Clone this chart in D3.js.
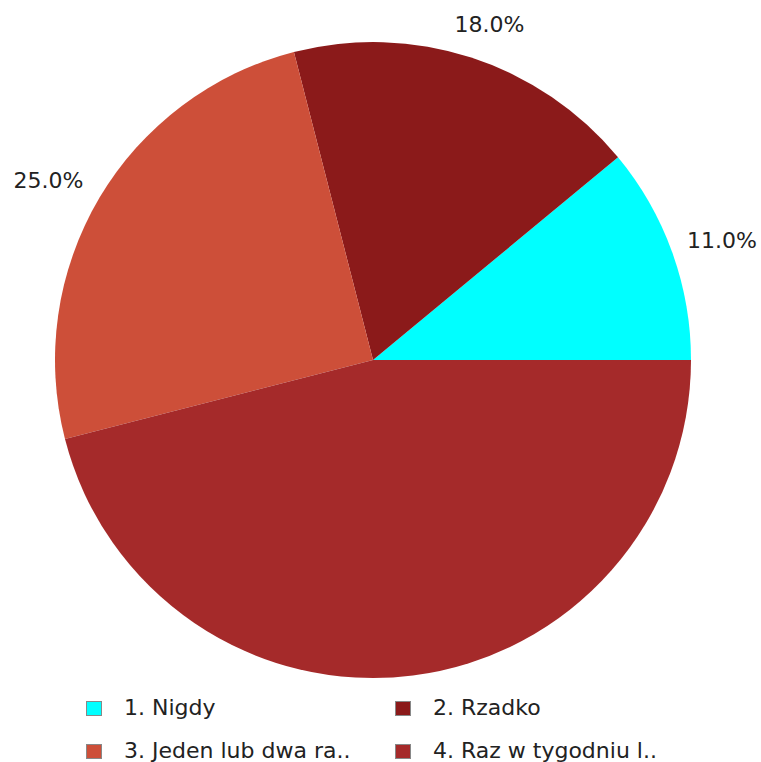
<!DOCTYPE html>
<html><head><meta charset="utf-8">
<script src="https://cdn.jsdelivr.net/npm/d3@7"></script>
<style>html,body{margin:0;padding:0;background:#fff;}svg{display:block;}</style>
</head><body>
<svg id="c" width="761" height="762"></svg>
<script>
const categories = ["1. Nigdy", "2. Rzadko", "3. Jeden lub dwa ra..", "4. Raz w tygodniu l.."];
const values = [11.0, 18.0, 25.0, 46.0];
const showLabel = [true, true, true, false];
const colors = ["#00ffff", "#8b1a1a", "#cd4f39", "#a52a2a"];

const W = 761;
const svg = d3.select("#c");
const cx = 373, cy = 360, r = 318;
const font = "DejaVu Sans, sans-serif";

const pie = d3.pie().sort(null).value(d => d).startAngle(Math.PI/2).endAngle(Math.PI/2 - 2*Math.PI);
const arcs = pie(values);
const arc = d3.arc().innerRadius(0).outerRadius(r);
const g = svg.append("g").attr("transform", `translate(${cx},${cy})`);
g.selectAll("path").data(arcs).join("path")
  .attr("d", arc).attr("fill", (d,i) => colors[i]);

const fmt = d3.format(".1f");
const R = r + 24;
arcs.forEach((a, i) => {
  if (!showLabel[i]) return;
  const mid = (a.startAngle + a.endAngle) / 2;
  const c = Math.sin(mid), s = Math.cos(mid);
  const t = g.append("text").text(fmt(values[i]) + "%")
    .attr("font-family", font).attr("font-size", 22).attr("fill", "#222")
    .attr("text-anchor", "middle").attr("dominant-baseline", "central");
  const w = t.node().getComputedTextLength(), h = 22;
  let x = R * c + (w/2) * c;
  const maxX = W - 4 - cx - w/2, minX = 4 - cx + w/2;
  x = Math.max(minX, Math.min(maxX, x));
  t.attr("x", x).attr("y", -R * s - (h/2) * s);
});

const legX = [86, 395], legY = [701, 744];
categories.forEach((name, i) => {
  const col = i % 2, row = Math.floor(i / 2);
  svg.append("rect").attr("x", legX[col] + 0.5).attr("y", legY[row] + 0.5)
    .attr("width", 15).attr("height", 14)
    .attr("fill", colors[i]).attr("stroke", "#888").attr("stroke-width", 1);
  svg.append("text").attr("x", legX[col] + 38).attr("y", legY[row] + 14)
    .attr("font-family", font).attr("font-size", 22).attr("fill", "#222")
    .text(name);
});
</script>
</body></html>
